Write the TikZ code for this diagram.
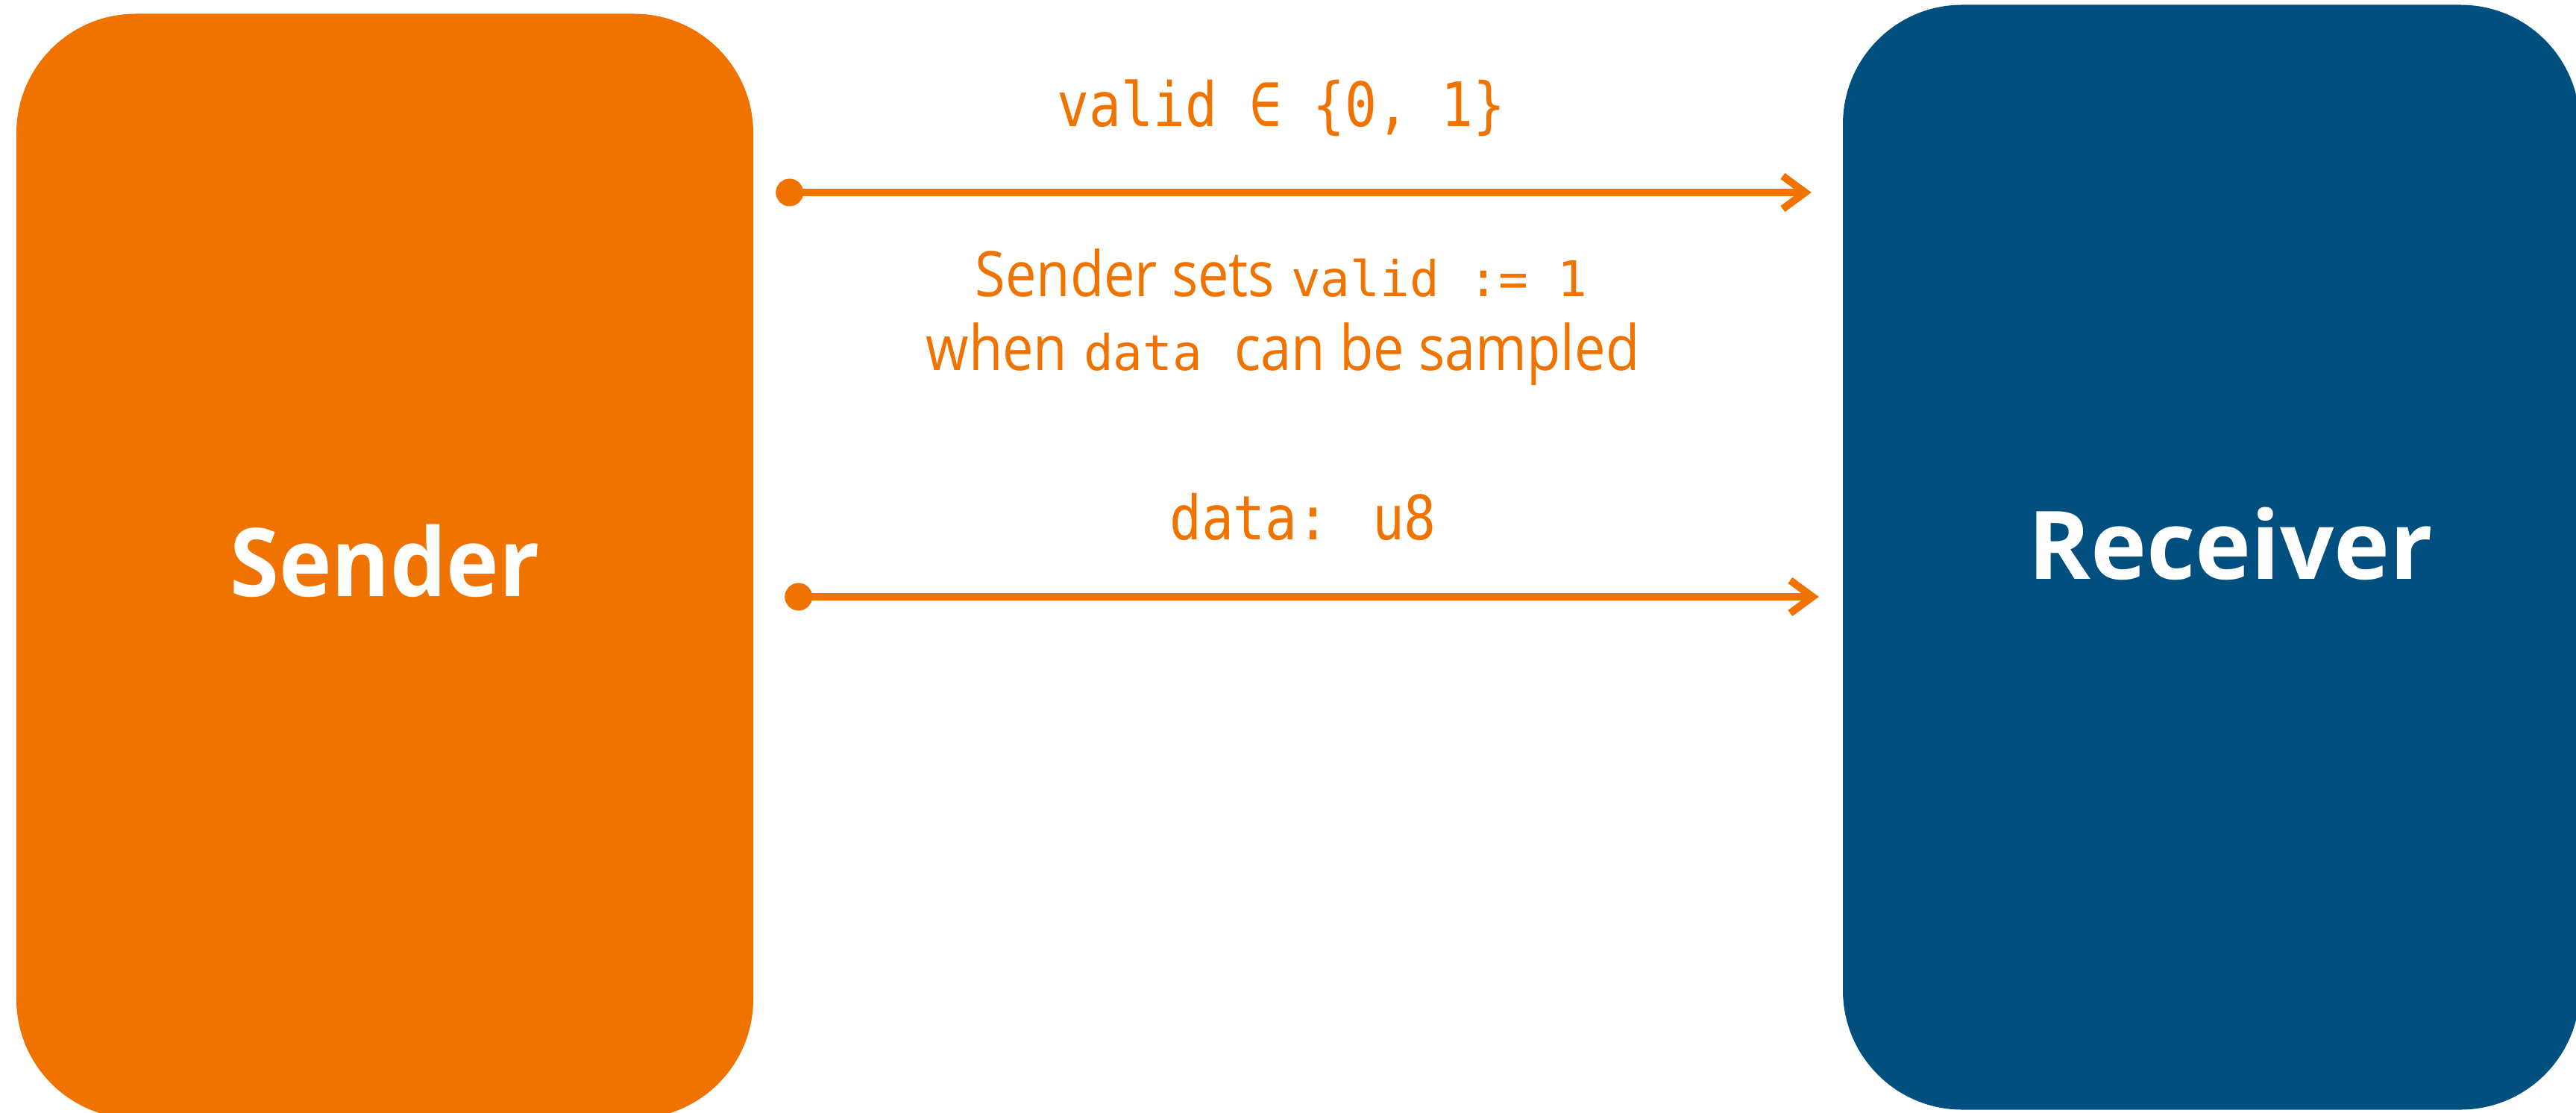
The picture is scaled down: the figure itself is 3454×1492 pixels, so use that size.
\documentclass[tikz,border=0pt]{standalone}
\usepackage{fontspec}
\usepackage{graphicx}
\setmainfont{Open Sans}
\newfontfamily\cf{DejaVu Sans Mono}
\usetikzlibrary{arrows.meta}
\definecolor{sigorange}{RGB}{240,115,0}
\definecolor{rxblue}{RGB}{0,79,127}
% condensed sans run and monospace run used in the note
\newcommand{\nsans}[1]{\scalebox{0.88}[1]{#1}}
\newcommand{\ncode}[1]{{\fontsize{66bp}{80bp}\selectfont\cf #1}}
\begin{document}
\begin{tikzpicture}[x=1bp,y=-1bp,
  party/.style={rectangle,rounded corners=160bp,minimum width=988bp,
    minimum height=1481bp,inner sep=0pt,text=white,
    font=\fontsize{127bp}{150bp}\selectfont\bfseries},
  sig/.style={draw=sigorange,line width=10bp,
    {Circle[length=37bp]}-{Straight Barb[length=30bp,width=44bp]}},
  codelabel/.style={text=sigorange,anchor=base,inner sep=0pt,
    font=\fontsize{82bp}{96bp}\selectfont\cf},
  note/.style={text=sigorange,anchor=base,inner sep=0pt,
    font=\fontsize{84bp}{99bp}\selectfont}]
\useasboundingbox (0,0) rectangle (3454,1492);

% the two parties
\node[party,fill=sigorange] (snd) at (516,759)
  {\raisebox{16bp}{\scalebox{0.94}[1]{Sender}}};
\node[party,fill=rxblue] (rcv) at (2965,747)
  {\hspace*{52bp}\raisebox{37bp}{Receiver}};

% signal endpoints
\path (snd.east |- 0,258) ++(30,0) coordinate (v0);
\path (rcv.west |- 0,258) ++(-42,0) coordinate (v1);
\path (snd.east |- 0,800) ++(42,0) coordinate (d0);
\path (rcv.west |- 0,800) ++(-32,0) coordinate (d1);

% valid and data wires
\draw[sig] (v0) -- (v1);
\draw[sig] (d0) -- (d1);

% wire labels
\node[codelabel] (vtype) at (1718,170) {\scalebox{0.87}[1]{valid ∈ \{0, 1\}}};
\node[codelabel] (dtype) at (1747,723) {\scalebox{0.87}[1]{data: u8}};

% protocol note
\node[note] (rule1) at (1718,397)
  {\nsans{Sender sets} \ncode{valid := 1}};
\node[note] (rule2) at (1720,496)
  {\nsans{when} \ncode{data}\ \ \nsans{can be sampled}};
\end{tikzpicture}
\end{document}
